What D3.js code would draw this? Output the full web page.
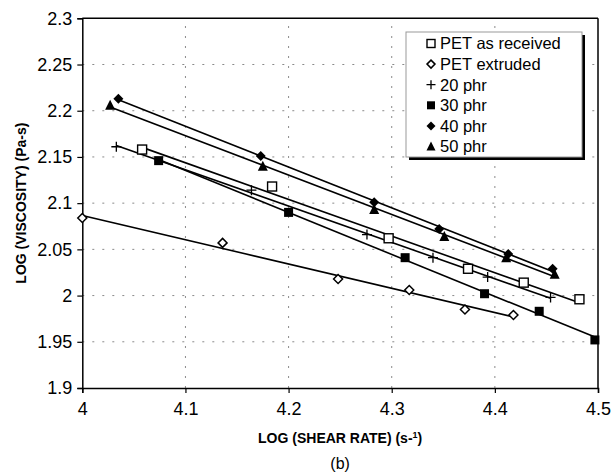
<!DOCTYPE html>
<html><head><meta charset="utf-8">
<script src="https://cdn.jsdelivr.net/npm/d3@7"></script>
<style>body{margin:0;background:#fff}svg{display:block;font-family:"Liberation Sans",Arial,sans-serif}</style>
</head><body><svg id="c" width="615" height="475"></svg>
<script>
const seriesNames = ["PET as received","PET extruded","20 phr","30 phr","40 phr","50 phr"];
const petReceivedX = [4.058,4.184,4.297,4.374,4.428,4.482];
const petReceivedY = [2.158,2.118,2.062,2.029,2.014,1.996];
const petExtrudedX = [4.000,4.136,4.248,4.317,4.371,4.418];
const petExtrudedY = [2.084,2.057,2.018,2.006,1.985,1.979];
const phr20X = [4.033,4.164,4.276,4.340,4.393,4.454];
const phr20Y = [2.161,2.114,2.066,2.041,2.020,1.998];
const phr30X = [4.074,4.200,4.313,4.390,4.443,4.497];
const phr30Y = [2.146,2.090,2.041,2.002,1.983,1.952];
const phr40X = [4.035,4.173,4.283,4.346,4.413,4.456];
const phr40Y = [2.213,2.151,2.101,2.072,2.045,2.029];
const phr50X = [4.027,4.175,4.283,4.351,4.411,4.458];
const phr50Y = [2.206,2.140,2.093,2.064,2.041,2.023];
const xTicks = [4,4.1,4.2,4.3,4.4,4.5];
const yTicks = [1.9,1.95,2,2.05,2.1,2.15,2.2,2.25,2.3];
const markers = ["squareOpen","diamondOpen","plus","squareFilled","diamondFilled","triangleFilled"];

const data = [
  [petReceivedX,petReceivedY],[petExtrudedX,petExtrudedY],[phr20X,phr20Y],
  [phr30X,phr30Y],[phr40X,phr40Y],[phr50X,phr50Y]
].map((d,i)=>({name:seriesNames[i],marker:markers[i],pts:d[0].map((x,j)=>({x,y:d[1][j]}))}));

const svg = d3.select("#c");
const x = d3.scaleLinear().domain([4,4.5]).range([82.3,598]);
const y = d3.scaleLinear().domain([1.9,2.3]).range([388,18.3]);

// gridlines
const g = svg.append("g");
g.selectAll("line.h").data(yTicks.filter(t=>t>1.9&&t<2.3)).enter().append("line")
  .attr("x1",x(4)).attr("x2",x(4.5)).attr("y1",d=>y(d)).attr("y2",d=>y(d))
  .attr("stroke","#8a8a8a").attr("stroke-width",1).attr("stroke-dasharray","2,8");
g.selectAll("line.v").data(xTicks.filter(t=>t>4&&t<4.5)).enter().append("line")
  .attr("y1",y(1.9)).attr("y2",y(2.3)).attr("x1",d=>x(d)).attr("x2",d=>x(d))
  .attr("stroke","#8a8a8a").attr("stroke-width",1).attr("stroke-dasharray","2,8");

// frame
svg.append("line").attr("x1",x(4)).attr("x2",x(4.5)).attr("y1",y(2.3)).attr("y2",y(2.3)).attr("stroke","#000").attr("stroke-width",1.5);
svg.append("line").attr("x1",x(4.5)).attr("x2",x(4.5)).attr("y1",y(2.3)).attr("y2",y(1.9)).attr("stroke","#000").attr("stroke-width",1.5);

// axes
const xa = svg.append("g").attr("transform",`translate(0,${y(1.9)})`)
  .call(d3.axisBottom(x).tickValues(xTicks).tickFormat(d3.format("")).tickSize(5).tickPadding(9));
const ya = svg.append("g").attr("transform",`translate(${x(4)},0)`)
  .call(d3.axisLeft(y).tickValues(yTicks).tickFormat(d=>String(+d.toFixed(2))).tickSize(5).tickPadding(5));
[xa,ya].forEach(a=>{
  a.select(".domain").attr("stroke","#000").attr("stroke-width",1.5);
  a.selectAll(".tick line").attr("stroke","#000").attr("stroke-width",1.2);
  a.selectAll(".tick text").attr("fill","#000").style("font-size","18px").style("font-family","'Liberation Sans',Arial,sans-serif");
});

// trend lines (least squares)
function fit(pts){
  const mx=d3.mean(pts,p=>p.x), my=d3.mean(pts,p=>p.y);
  const b=d3.sum(pts,p=>(p.x-mx)*(p.y-my))/d3.sum(pts,p=>(p.x-mx)**2);
  const a=my-b*mx; const [x0,x1]=d3.extent(pts,p=>p.x);
  return [{x:x0,y:a+b*x0},{x:x1,y:a+b*x1}];
}
const line = d3.line().x(d=>x(d.x)).y(d=>y(d.y));
svg.append("g").selectAll("path").data(data).enter().append("path")
  .attr("d",d=>line(fit(d.pts))).attr("fill","none").attr("stroke","#000").attr("stroke-width",1.6);

// markers
function drawMarker(sel,type,s){
  if(type==="squareOpen") sel.append("rect").attr("x",-s/2).attr("y",-s/2).attr("width",s).attr("height",s).attr("fill","#fff").attr("stroke","#000").attr("stroke-width",1.4);
  else if(type==="squareFilled") sel.append("rect").attr("x",-s/2).attr("y",-s/2).attr("width",s).attr("height",s).attr("fill","#000");
  else if(type==="diamondOpen") sel.append("path").attr("d",`M0,${-s/2}L${s/2},0L0,${s/2}L${-s/2},0Z`).attr("fill","#fff").attr("stroke","#000").attr("stroke-width",1.5);
  else if(type==="diamondFilled") sel.append("path").attr("d",`M0,${-s/2-0.5}L${s/2+0.5},0L0,${s/2+0.5}L${-s/2-0.5},0Z`).attr("fill","#000");
  else if(type==="triangleFilled") sel.append("path").attr("d",`M0,${-s/2-1}L${s/2+0.5},${s/2}L${-s/2-0.5},${s/2}Z`).attr("fill","#000");
  else if(type==="plus") sel.append("path").attr("d",`M${-s/2-0.5},0H${s/2+0.5}M0,${-s/2-0.5}V${s/2+0.5}`).attr("stroke","#000").attr("stroke-width",1.3);
}
data.forEach(s=>{
  s.pts.forEach(p=>{
    const m = svg.append("g").attr("transform",`translate(${x(p.x)},${y(p.y)})`);
    drawMarker(m,s.marker,9);
  });
});

// legend
const lg = svg.append("g");
lg.append("rect").attr("x",409).attr("y",35).attr("width",176).attr("height",125).attr("fill","#000");
lg.append("rect").attr("x",406).attr("y",32).attr("width",176).attr("height",125).attr("fill","#fff").attr("stroke","#999").attr("stroke-width",1);
data.forEach((s,i)=>{
  const yy = 43.5 + i*20.6;
  const m = lg.append("g").attr("transform",`translate(431,${yy})`);
  drawMarker(m,s.marker,8);
  lg.append("text").attr("x",440).attr("y",yy).attr("dy","0.36em").style("font-size","16.5px").attr("fill","#000").text(s.name);
});

// axis titles
svg.append("text").attr("transform",`translate(21,${(y(1.9)+y(2.3))/2}) rotate(-90)`).attr("text-anchor","middle")
  .attr("dy","0.36em").style("font-size","14px").style("font-weight","bold").text("LOG (VISCOSITY) (Pa-s)");
const xt = svg.append("text").attr("x",(x(4)+x(4.5))/2).attr("y",443).attr("text-anchor","middle").style("font-size","14px").style("font-weight","bold");
xt.append("tspan").text("LOG (SHEAR RATE) (s-");
xt.append("tspan").attr("dy",-5).style("font-size","9px").text("1");
xt.append("tspan").attr("dy",5).text(")");
svg.append("text").attr("x",(x(4)+x(4.5))/2).attr("y",469).attr("text-anchor","middle").style("font-size","16px").text("(b)");
</script></body></html>
